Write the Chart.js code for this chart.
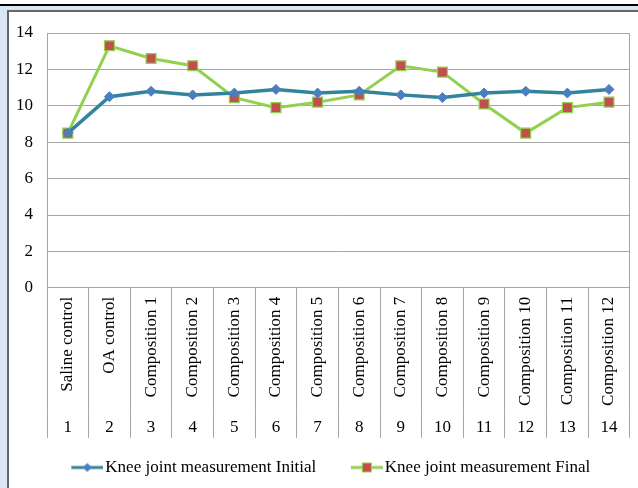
<!DOCTYPE html>
<html>
<head>
<meta charset="utf-8">
<script src="https://cdn.jsdelivr.net/npm/chart.js@4/dist/chart.umd.min.js"></script>
<style>
  html, body { margin: 0; padding: 0; background: #ffffff; }
  #wrap { position: relative; width: 638px; height: 488px; overflow: hidden; background: #ffffff; }
  .topRule { position: absolute; left: 0; top: 4px; width: 638px; height: 2px; background: #000000; }
  .blueTop { position: absolute; left: 0; top: 6px; width: 638px; height: 4px; background: #dbe5f4; }
  .blueLeft { position: absolute; left: 0; top: 6px; width: 7px; height: 482px; background: #dbe5f4; }
  .frameTop { position: absolute; left: 7px; top: 10px; width: 631px; height: 2px; background: #666666; }
  .frameLeft { position: absolute; left: 7px; top: 10px; width: 2px; height: 478px; background: #666666; }
  canvas#chart { position: absolute; left: 0; top: 0; }
</style>
</head>
<body>
<div id="wrap">
  <div class="topRule"></div>
  <div class="blueTop"></div>
  <div class="blueLeft"></div>
  <div class="frameTop"></div>
  <div class="frameLeft"></div>
  <canvas id="chart" width="638" height="488"></canvas>
</div>
<script>
// Treatment groups and their running numbers
const groupNames = [
  'Saline control', 'OA control', 'Composition 1', 'Composition 2', 'Composition 3',
  'Composition 4', 'Composition 5', 'Composition 6', 'Composition 7', 'Composition 8',
  'Composition 9', 'Composition 10', 'Composition 11', 'Composition 12'
];
const groupNumbers = ['1','2','3','4','5','6','7','8','9','10','11','12','13','14'];

// Knee joint measurements
const initialValues = [8.5, 10.5, 10.8, 10.6, 10.7, 10.9, 10.7, 10.8, 10.6, 10.45, 10.7, 10.8, 10.7, 10.9];
const finalValues   = [8.5, 13.3, 12.6, 12.2, 10.45, 9.9, 10.2, 10.6, 12.2, 11.85, 10.1, 8.5, 9.9, 10.2];

const yTicks = [0, 2, 4, 6, 8, 10, 12, 14];

const FONT = '"Liberation Serif", "Times New Roman", serif';
const GRID = '#a6a6a6';

const BLUE_LINE = '#31849b';
const BLUE_MARK = '#4a7fbf';
const GREEN_LINE = '#92d050';
const RED_MARK = '#c0504d';

// Legend swatch: a short line with the series marker in its middle,
// placed at the right end of a wider transparent canvas so it sits close to the text
const SWATCH_BOX = 44;
function legendSwatch(lineColor, markColor, markBorder, shape) {
  const c = document.createElement('canvas');
  c.width = SWATCH_BOX + 13; c.height = 12;
  const g = c.getContext('2d');
  const x0 = c.width - 32, x1 = c.width, cx = (x0 + x1) / 2;
  g.strokeStyle = lineColor;
  g.lineWidth = 3;
  g.beginPath(); g.moveTo(x0, 6); g.lineTo(x1, 6); g.stroke();
  g.fillStyle = markColor;
  if (shape === 'diamond') {
    g.beginPath(); g.moveTo(cx, 1.5); g.lineTo(cx + 4.5, 6); g.lineTo(cx, 10.5); g.lineTo(cx - 4.5, 6); g.closePath(); g.fill();
  } else {
    g.fillRect(cx - 4.5, 1.5, 9, 9);
    g.strokeStyle = markBorder; g.lineWidth = 1;
    g.strokeRect(cx - 4.5, 1.5, 9, 9);
  }
  return c;
}

const swatchInitial = legendSwatch(BLUE_LINE, BLUE_MARK, BLUE_MARK, 'diamond');
const swatchFinal = legendSwatch(GREEN_LINE, RED_MARK, GREEN_LINE, 'square');

new Chart(document.getElementById('chart'), {
  type: 'line',
  data: {
    labels: groupNames,
    datasets: [
      {
        label: 'Knee joint measurement Initial',
        data: initialValues,
        borderColor: BLUE_LINE,
        borderWidth: 3.5,
        pointStyle: 'rectRot',
        pointRadius: 5,
        pointBackgroundColor: BLUE_MARK,
        pointBorderColor: BLUE_MARK,
        pointBorderWidth: 1,
        tension: 0,
        xAxisID: 'x',
        yAxisID: 'y'
      },
      {
        label: 'Knee joint measurement Final',
        data: finalValues,
        borderColor: GREEN_LINE,
        borderWidth: 3,
        pointStyle: 'rect',
        pointRadius: 7,
        pointBackgroundColor: RED_MARK,
        pointBorderColor: GREEN_LINE,
        pointBorderWidth: 1.2,
        tension: 0,
        xAxisID: 'x',
        yAxisID: 'y'
      }
    ]
  },
  options: {
    responsive: false,
    animation: false,
    devicePixelRatio: 1,
    layout: { padding: { left: 10, right: 5, top: 33, bottom: 2 } },
    plugins: {
      tooltip: { enabled: false },
      legend: {
        position: 'bottom',
        title: { display: true, text: '', font: { size: 1 }, padding: { top: 4, bottom: 0 } },
        labels: {
          font: { family: FONT, size: 17 },
          color: '#000000',
          usePointStyle: true,
          pointStyleWidth: SWATCH_BOX,
          padding: 16,
          generateLabels: (chart) => chart.data.datasets.map((ds, i) => ({
            text: ds.label,
            pointStyle: i === 0 ? swatchInitial : swatchFinal,
            fillStyle: 'transparent',
            strokeStyle: 'transparent',
            lineWidth: 0,
            hidden: false,
            datasetIndex: i,
            fontColor: '#000000'
          }))
        }
      }
    },
    scales: {
      y: {
        position: 'left',
        min: 0,
        max: 14,
        afterBuildTicks: (axis) => { axis.ticks = yTicks.map(v => ({ value: v })); },
        afterFit: (axis) => { axis.width = 37; },
        ticks: { font: { family: FONT, size: 17 }, color: '#000000', padding: 14 },
        grid: { color: GRID, lineWidth: 1, drawTicks: false },
        border: { color: GRID, width: 1 }
      },
      yRight: {
        position: 'right',
        min: 0,
        max: 14,
        ticks: { display: false },
        grid: { drawOnChartArea: false, drawTicks: false },
        border: { color: GRID, width: 1 },
        afterFit: (axis) => { axis.width = 1; }
      },
      x: {
        position: 'bottom',
        offset: true,
        afterFit: (axis) => { axis.height = 123; },
        ticks: {
          autoSkip: false,
          minRotation: 90,
          maxRotation: 90,
          font: { family: FONT, size: 17 },
          color: '#000000',
          padding: -114
        },
        grid: { offset: true, drawOnChartArea: false, tickLength: 123, color: GRID, lineWidth: 1 },
        border: { color: GRID, width: 1 }
      },
      x2: {
        type: 'category',
        labels: groupNumbers,
        position: 'bottom',
        offset: true,
        afterFit: (axis) => { axis.height = 27; },
        ticks: {
          autoSkip: false,
          maxRotation: 0,
          font: { family: FONT, size: 17 },
          color: '#000000',
          padding: -20
        },
        grid: { offset: true, drawOnChartArea: false, tickLength: 27, color: GRID, lineWidth: 1 },
        border: { display: false }
      }
    }
  }
});
</script>
</body>
</html>
